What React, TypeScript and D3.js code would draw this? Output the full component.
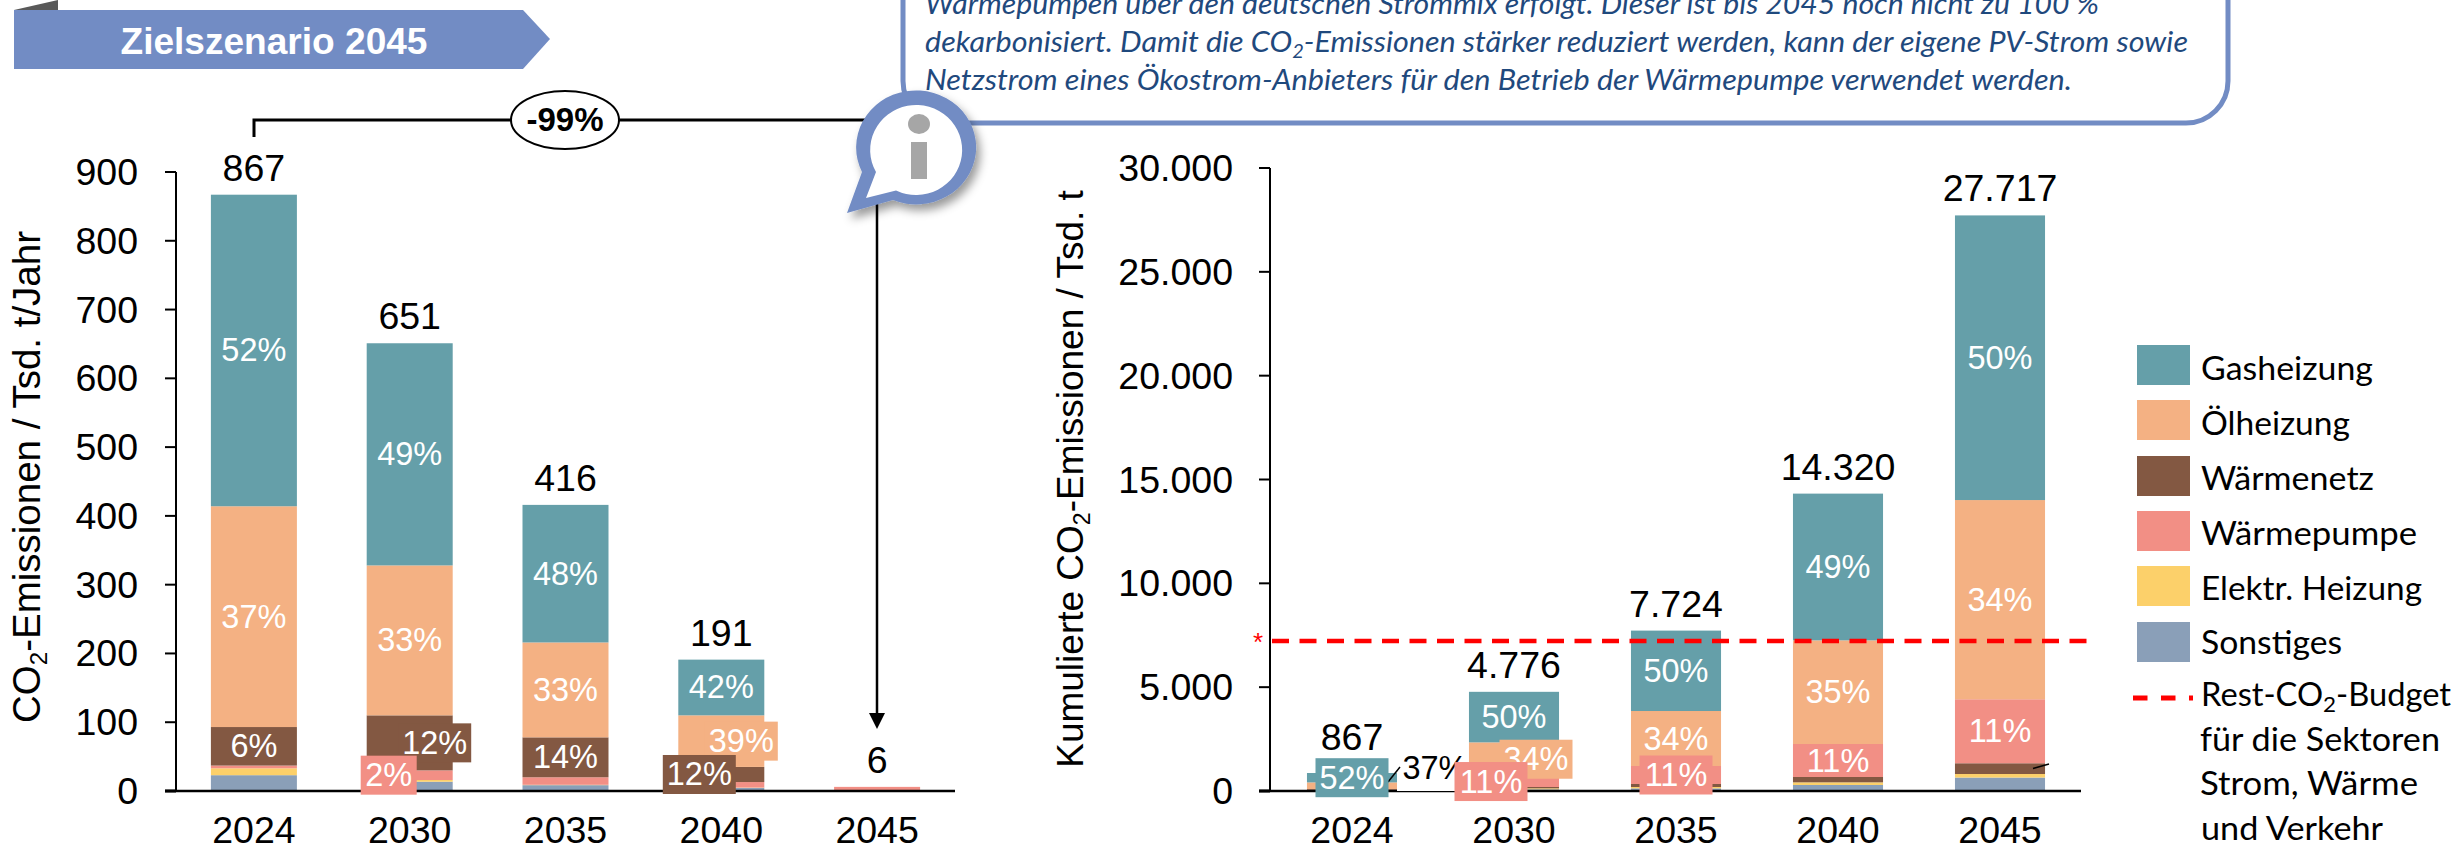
import React from "react";
import * as d3 from "d3";

const years = ["2024", "2030", "2035", "2040", "2045"];
const seriesNames = ["Gasheizung", "Ölheizung", "Wärmenetz", "Wärmepumpe", "Elektr. Heizung", "Sonstiges"];
const seriesColors = ["#659fa9", "#f4b183", "#835842", "#f28f85", "#fcd06a", "#8a9fb8"];

// Annual emissions (Tsd. t/Jahr)
const annualGas = [453, 323, 200, 81, 0];
const annualOil = [321, 218, 138, 75, 0];
const annualNet = [56, 80, 58, 22, 0];
const annualHp = [4, 14, 11, 8, 5.8];
const annualElec = [10, 2.5, 0.5, 0.5, 0];
const annualOther = [23, 13.5, 8.5, 4.5, 0.2];
const annualTotals = [867, 651, 416, 191, 6];

// Cumulative emissions (Tsd. t)
const cumGas = [453, 2434, 3872, 7065, 13707];
const cumOil = [321, 1624, 2648, 4992, 9592];
const cumNet = [56, 65, 145, 257, 518];
const cumHp = [4, 525, 867, 1589, 3082];
const cumElec = [10, 48, 64, 128, 171];
const cumOther = [23, 80, 128, 289, 647];
const cumTotals = [867, 4776, 7724, 14320, 27717];
const budget = 7222;

const annualTicks = [0, 100, 200, 300, 400, 500, 600, 700, 800, 900];
const cumTicks = [0, 5000, 10000, 15000, 20000, 25000, 30000];

const annualLabels = [
  ["2024", "Gasheizung", "52%"], ["2024", "Ölheizung", "37%"], ["2024", "Wärmenetz", "6%"],
  ["2030", "Gasheizung", "49%"], ["2030", "Ölheizung", "33%"], ["2030", "Wärmenetz", "12%"], ["2030", "Wärmepumpe", "2%"],
  ["2035", "Gasheizung", "48%"], ["2035", "Ölheizung", "33%"], ["2035", "Wärmenetz", "14%"],
  ["2040", "Gasheizung", "42%"], ["2040", "Ölheizung", "39%"], ["2040", "Wärmenetz", "12%"],
];
const cumLabels = [
  ["2024", "Gasheizung", "52%"],
  ["2030", "Gasheizung", "50%"], ["2030", "Ölheizung", "34%"], ["2030", "Wärmepumpe", "11%"],
  ["2035", "Gasheizung", "50%"], ["2035", "Ölheizung", "34%"], ["2035", "Wärmepumpe", "11%"],
  ["2040", "Gasheizung", "49%"], ["2040", "Ölheizung", "35%"], ["2040", "Wärmepumpe", "11%"],
  ["2045", "Gasheizung", "50%"], ["2045", "Ölheizung", "34%"], ["2045", "Wärmepumpe", "11%"],
];
const noteLines = [
  "Wärmepumpen über den deutschen Strommix erfolgt. Dieser ist bis 2045 noch nicht zu 100 %",
  ["dekarbonisiert. Damit die CO", "-Emissionen stärker reduziert werden, kann der eigene PV-Strom sowie"],
  "Netzstrom eines Ökostrom-Anbieters für den Betrieb der Wärmepumpe verwendet werden.",
];

// Layout (not data)
const ARIAL = "'Liberation Sans', Arial, sans-serif";
const CAL = "Lato, 'Open Sans', sans-serif";
const annualOffsets: Record<string, number> = { "2030|Wärmenetz": 25, "2030|Wärmepumpe": -21, "2040|Ölheizung": 20, "2040|Wärmenetz": -22 };
const cumOffsets: Record<string, number> = { "2030|Ölheizung": 22, "2030|Wärmepumpe": -23, "2035|Wärmepumpe": 0, "2024|Gasheizung": 0 };

const toRows = (s: number[][], names: string[]) =>
  years.map((y, i) => {
    const r: any = { year: y };
    names.forEach((n, k) => (r[n] = s[k][i]));
    return r;
  });

function Chart({ rows, order, totals, ticks, yMax, xRange, padding, tickFmt, labels, offsets, sizeBoxes, axisX, tickRight, totalShift }: any) {
  const x = d3.scaleBand().domain(years).range(xRange).paddingInner(padding).paddingOuter(padding / 2);
  const y = d3.scaleLinear().domain([0, yMax]).range([791, 791 - (yMax === 900 ? 619 : 623)]);
  const stack = d3.stack().keys(order)(rows);
  const segs: Record<string, [number, number]> = {};
  stack.forEach((layer: any) => layer.forEach((d: any) => (segs[d.data.year + "|" + layer.key] = [d[0], d[1]])));
  const plain = labels.filter((l: any) => !((l[0] + "|" + l[1]) in offsets));
  const boxed = labels.filter((l: any) => (l[0] + "|" + l[1]) in offsets);
  const colorOf = (n: string) => seriesColors[seriesNames.indexOf(n)];
  const cx = (yr: string) => x(yr)! + x.bandwidth() / 2;
  const midY = (k: string) => y((segs[k][0] + segs[k][1]) / 2);
  return (
    <g>
      {stack.map((layer: any) => layer.map((d: any) => (
        <rect key={layer.key + d.data.year} x={x(d.data.year)} width={x.bandwidth()} y={y(d[1])} height={Math.max(0, y(d[0]) - y(d[1]))} fill={colorOf(layer.key)} />
      )))}
      <line x1={axisX} x2={axisX} y1={y(yMax)} y2={791} stroke="#000" strokeWidth={2} />
      {ticks.map((t: number) => (
        <g key={t}>
          <line x1={axisX - 11} x2={axisX} y1={y(t)} y2={y(t)} stroke="#000" strokeWidth={t === 0 ? 3 : 2} />
          <text x={tickRight} y={y(t) + 13} textAnchor="end" fontSize={37.5} fontFamily={ARIAL}>{tickFmt(t)}</text>
        </g>
      ))}
      <line x1={axisX - 11} x2={xRange[1]} y1={791} y2={791} stroke="#000" strokeWidth={2.5} />
      {years.map((yr) => (
        <text key={yr} x={cx(yr)} y={843} textAnchor="middle" fontSize={37.5} fontFamily={ARIAL}>{yr}</text>
      ))}
      {years.map((yr, i) => (
        <text key={yr} x={cx(yr)} y={y(totals[i]) - 14 - (totalShift ? totalShift[i] : 0)} textAnchor="middle" fontSize={37.5} fontFamily={ARIAL}>{tickFmt(totals[i])}</text>
      ))}
      {plain.map((l: any) => (
        <text key={l[0] + l[1]} x={cx(l[0])} y={midY(l[0] + "|" + l[1]) + 11} textAnchor="middle" fontSize={32.5} fill="#fff" fontFamily={ARIAL}>{l[2]}</text>
      ))}
      {sizeBoxes}
      {boxed.map((l: any) => {
        const k = l[0] + "|" + l[1];
        const w = l[2].length === 2 ? 56 : 73;
        const bx = cx(l[0]) + offsets[k];
        return (
          <g key={k}>
            <rect x={bx - w / 2} y={midY(k) - 19.5} width={w} height={39} fill={colorOf(l[1])} />
            <text x={bx} y={midY(k) + 11} textAnchor="middle" fontSize={32.5} fill="#fff" fontFamily={ARIAL}>{l[2]}</text>
          </g>
        );
      })}
    </g>
  );
}

export default function App() {
  const order = ["Sonstiges", "Elektr. Heizung", "Wärmepumpe", "Wärmenetz", "Ölheizung", "Gasheizung"];
  const cumOrder = ["Sonstiges", "Elektr. Heizung", "Wärmenetz", "Wärmepumpe", "Ölheizung", "Gasheizung"];
  const annualRows = toRows([annualGas, annualOil, annualNet, annualHp, annualElec, annualOther], seriesNames);
  const cumRows = toRows([cumGas, cumOil, cumNet, cumHp, cumElec, cumOther], seriesNames);
  const de = d3.formatLocale({ decimal: ",", thousands: ".", grouping: [3], currency: ["", "€"] }).format(",");
  const yCum = d3.scaleLinear().domain([0, 30000]).range([791, 168]);
  const legendTops = [345, 400, 456, 511, 566, 622];
  const legendBase = [380, 435, 490, 545, 600, 654];
  const legendLen = [172, 149, 173, 216, 221, 141];
  return (
    <svg width={2458} height={852} style={{ position: "absolute", left: 0, top: 0, background: "#fff" }}>
      <defs>
        <filter id="sh" x="-30%" y="-30%" width="170%" height="170%">
          <feDropShadow dx="4" dy="6" stdDeviation="5" floodColor="#000" floodOpacity="0.4" />
        </filter>
      </defs>

      {/* Banner */}
      <path d="M14,10 L58,0 L58,10 Z" fill="#595959" />
      <path d="M14,10 L523,10 L550,39 L523,69 L14,69 Z" fill="#728cc4" />
      <text x={274} y={54} textAnchor="middle" fontSize={37} fontWeight="bold" fill="#fff" fontFamily={ARIAL} textLength={307} lengthAdjust="spacingAndGlyphs">Zielszenario 2045</text>

      {/* Note box */}
      <rect x={903} y={-60} width={1325} height={183} rx={42} fill="#fff" stroke="#728cc4" strokeWidth={5} />
      <g fontFamily={CAL} fontStyle="italic" fontSize={29} fill="#1f497d">
        <text x={925} y={14} textLength={1174} lengthAdjust="spacingAndGlyphs">{noteLines[0] as string}</text>
        <text x={925} y={52} textLength={1263} lengthAdjust="spacingAndGlyphs">
          {noteLines[1][0]}<tspan fontSize={19} dy={6}>2</tspan><tspan dy={-6}>{noteLines[1][1]}</tspan>
        </text>
        <text x={925} y={90} textLength={1147} lengthAdjust="spacingAndGlyphs">{noteLines[2] as string}</text>
      </g>

      {/* Reduction bracket */}
      <path d="M254,137 L254,120 L870,120" fill="none" stroke="#000" strokeWidth={3} />
      <ellipse cx={565} cy={120} rx={54} ry={29} fill="#fff" stroke="#000" strokeWidth={2} />
      <text x={565} y={131} textAnchor="middle" fontSize={33} fontWeight="bold" fontFamily={ARIAL}>-99%</text>
      <line x1={877} x2={877} y1={195} y2={716} stroke="#000" strokeWidth={2.5} />
      <path d="M869,713 L885,713 L877,729 Z" fill="#000" />

      {/* Annual chart */}
      <Chart rows={annualRows} order={order} totals={annualTotals} ticks={annualTicks} yMax={900} xRange={[176, 955]} padding={0.448}
        tickFmt={(v: number) => String(v)} labels={annualLabels} offsets={annualOffsets} axisX={176} tickRight={138} />
      <text transform="translate(40,477) rotate(-90)" textAnchor="middle" fontSize={38.5} fontFamily={ARIAL}>
        CO<tspan fontSize={24} dy={7}>2</tspan><tspan dy={-7}>-Emissionen / Tsd. t/Jahr</tspan>
      </text>

      {/* Cumulative chart */}
      <Chart rows={cumRows} order={cumOrder} totals={cumTotals} ticks={cumTicks} yMax={30000} xRange={[1271, 2081]} padding={0.444}
        tickFmt={de} labels={cumLabels} offsets={cumOffsets} axisX={1270} tickRight={1233} totalShift={[9, 0, 0, 0, 0]}
        sizeBoxes={
          <g>
            <rect x={1397} y={745} width={60} height={46} fill="#fff" />
            <text x={1435} y={779} textAnchor="middle" fontSize={32.5} fontFamily={ARIAL}>37%</text>
            <line x1={1388} y1={782} x2={1400} y2={767} stroke="#000" strokeWidth={1.5} />
          </g>
        } />
      <text transform="translate(1083,479) rotate(-90)" textAnchor="middle" fontSize={37} fontFamily={ARIAL}>
        Kumulierte CO<tspan fontSize={23} dy={7}>2</tspan><tspan dy={-7}>-Emissionen / Tsd. t</tspan>
      </text>
      <line x1={2033} y1={768.5} x2={2049} y2={764} stroke="#000" strokeWidth={1.5} />
      <line x1={1272} x2={2088} y1={yCum(budget)} y2={yCum(budget)} stroke="#ff0000" strokeWidth={4.5} strokeDasharray="17 10.5" />
      <text x={1258} y={651} textAnchor="middle" fontSize={26} fill="#ff0000" fontFamily={ARIAL}>*</text>

      {/* Legend */}
      {seriesNames.map((n, i) => (
        <g key={n}>
          <rect x={2137} y={legendTops[i]} width={53} height={40} fill={seriesColors[i]} />
          <text x={2201} y={legendBase[i]} fontSize={32} fontFamily={CAL} textLength={legendLen[i]} lengthAdjust="spacingAndGlyphs">{n}</text>
        </g>
      ))}
      <line x1={2133} x2={2193} y1={698} y2={698} stroke="#ff0000" strokeWidth={5} strokeDasharray="14.5 13.5" />
      <g fontSize={32} fontFamily={CAL}>
        <text x={2201} y={705.5} textLength={250} lengthAdjust="spacingAndGlyphs">Rest-CO<tspan fontSize={22} dy={6}>2</tspan><tspan dy={-6}>-Budget</tspan></text>
        <text x={2200} y={750.5} textLength={240} lengthAdjust="spacingAndGlyphs">für die Sektoren</text>
        <text x={2200} y={795} textLength={218} lengthAdjust="spacingAndGlyphs">Strom, Wärme</text>
        <text x={2201} y={840} textLength={182} lengthAdjust="spacingAndGlyphs">und Verkehr</text>
      </g>

      {/* Info bubble */}
      <g filter="url(#sh)">
        <path d="M862,172 L847,213 L893,200 A60 57 0 1 0 862,172 Z" fill="#728cc4" />
      </g>
      <path d="M876,172 L866,198 L896,190.5 A46 45 0 1 0 876,172 Z" fill="#fff" />
      <ellipse cx={919} cy={124} rx={11} ry={10} fill="#a6a6a6" />
      <rect x={911} y={142} width={16} height={37} fill="#a6a6a6" />
    </svg>
  );
}
